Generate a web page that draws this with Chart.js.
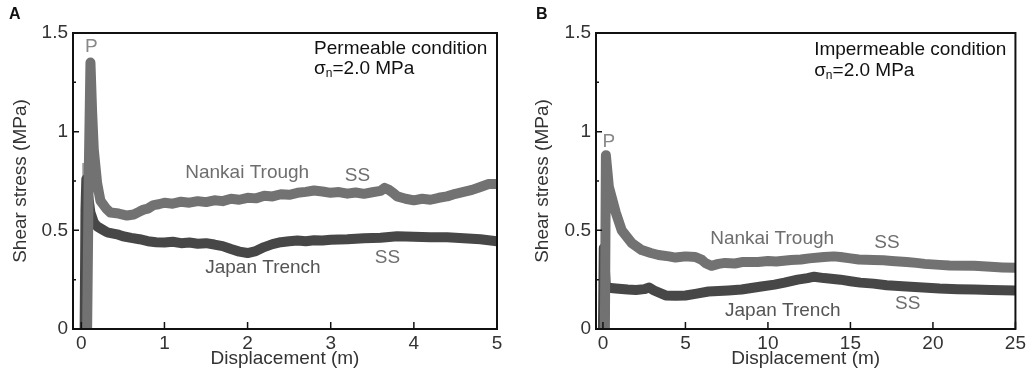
<!DOCTYPE html>
<html>
<head>
<meta charset="utf-8">
<script src="https://cdn.jsdelivr.net/npm/chart.js@4.4.1/dist/chart.umd.min.js"></script>
<style>
    html, body { margin: 0; padding: 0; background: #fff; }
    #wrap { position: relative; width: 1029px; height: 378px; overflow: hidden; }
    canvas { position: absolute; top: 0; }
    #chartA { left: 0; }
    #chartB { left: 514px; }
    .tag { position: absolute; top: 5px; font: bold 16px "Liberation Sans", Arial, sans-serif; color: #111; }
</style>
</head>
<body>
<div id="wrap">
    <canvas id="chartA" width="514" height="378"></canvas>
    <canvas id="chartB" width="515" height="378"></canvas>
    <div class="tag" style="left:9px">A</div>
    <div class="tag" style="left:536px">B</div>
</div>
<script>
// --- Panel A: permeable condition (displacement m, shear stress MPa) ---
const dispA_nankai = [0.07, 0.09, 0.11, 0.13, 0.15, 0.19, 0.23, 0.3, 0.35, 0.45, 0.55, 0.63, 0.7, 0.75, 0.8, 0.87, 0.93,
    1.0, 1.1, 1.2, 1.3, 1.4, 1.5, 1.6, 1.7, 1.8, 1.9, 2.0, 2.1, 2.2, 2.3, 2.4, 2.5, 2.6, 2.7, 2.8, 2.9, 3.0, 3.1, 3.2, 3.3,
    3.4, 3.5, 3.6, 3.65, 3.7, 3.75, 3.8, 3.9, 4.0, 4.1, 4.2, 4.3, 4.4, 4.5, 4.6, 4.7, 4.8, 4.9, 5.0];
const stressA_nankai = [0, 0.8, 1.35, 1.1, 0.91, 0.74, 0.65, 0.61, 0.59, 0.585, 0.575, 0.58, 0.595, 0.605, 0.61, 0.628, 0.632,
    0.64, 0.635, 0.645, 0.64, 0.648, 0.643, 0.652, 0.648, 0.66, 0.655, 0.665, 0.662, 0.675, 0.672, 0.683, 0.68, 0.69, 0.695, 0.702, 0.697, 0.69, 0.694, 0.686, 0.692,
    0.685, 0.693, 0.7, 0.715, 0.705, 0.69, 0.672, 0.66, 0.652, 0.66, 0.655, 0.665, 0.672, 0.685, 0.695, 0.705, 0.72, 0.735, 0.735];

const dispA_japan = [0.04, 0.05, 0.06, 0.08, 0.11, 0.15, 0.19, 0.25, 0.31, 0.37, 0.43, 0.5, 0.6, 0.7, 0.8, 0.9,
    1.0, 1.1, 1.2, 1.3, 1.4, 1.5, 1.6, 1.7, 1.8, 1.9, 2.0, 2.1, 2.2, 2.3, 2.4, 2.5, 2.6, 2.7, 2.8, 2.9,
    3.0, 3.2, 3.4, 3.6, 3.8, 4.0, 4.2, 4.4, 4.6, 4.8, 5.0];
const stressA_japan = [0, 0.6, 0.76, 0.68, 0.59, 0.54, 0.52, 0.505, 0.49, 0.485, 0.48, 0.47, 0.462, 0.455, 0.445, 0.44,
    0.438, 0.442, 0.435, 0.438, 0.432, 0.435, 0.428, 0.42, 0.405, 0.392, 0.385, 0.395, 0.415, 0.43, 0.44, 0.445, 0.448, 0.445, 0.45, 0.448,
    0.452, 0.455, 0.46, 0.462, 0.47, 0.468, 0.465, 0.465, 0.46, 0.455, 0.445];

// --- Panel B: impermeable condition ---
const dispB_nankai = [0.12, 0.18, 0.36, 0.78, 1.14, 1.75, 2.35, 2.9, 3.37, 4.0, 4.4, 5.0, 5.6, 6.0, 6.2, 6.57, 7.0, 7.4, 8.0, 8.5,
    9.4, 10.0, 10.5, 11.4, 12.0, 12.5, 13.4, 14.0, 14.4, 15.0, 15.5, 16.4, 17.0, 17.5, 18.4, 19.0, 19.5, 20.4, 21.0, 22.5, 23.5, 24.2, 25];
const stressB_nankai = [0, 0.88, 0.72, 0.59, 0.5, 0.435, 0.4, 0.385, 0.375, 0.368, 0.362, 0.368, 0.365, 0.35, 0.335, 0.32, 0.33, 0.335, 0.332, 0.34,
    0.34, 0.345, 0.342, 0.35, 0.352, 0.358, 0.365, 0.368, 0.365, 0.358, 0.352, 0.35, 0.348, 0.345, 0.34, 0.335, 0.33, 0.325, 0.322, 0.32, 0.315, 0.312, 0.31];

const dispB_japan = [0.0, 0.05, 0.18, 0.78, 1.5, 2.0, 2.5, 2.8, 3.1, 3.8, 4.4, 5.0, 5.6, 6.4, 7.0, 7.6, 8.4, 9.0, 9.6, 10.4,
    11.0, 11.8, 12.4, 12.8, 13.4, 14.4, 15.0, 15.6, 16.4, 17.2, 18.4, 19.4, 20.4, 21.5, 22.5, 23.5, 25];
const stressB_japan = [0, 0.41, 0.21, 0.205, 0.2, 0.198, 0.202, 0.21, 0.195, 0.17, 0.168, 0.17, 0.178, 0.19, 0.192, 0.195, 0.2, 0.208, 0.215, 0.225,
    0.235, 0.25, 0.258, 0.265, 0.258, 0.25, 0.242, 0.235, 0.23, 0.222, 0.215, 0.21, 0.205, 0.202, 0.2, 0.198, 0.195];

const yTicks = [0, 0.5, 1, 1.5];
const xTicksA = [0, 1, 2, 3, 4, 5];
const xTicksB = [0, 5, 10, 15, 20, 25];

// text labels placed in data coordinates
const notesA = [
    { text: 'P', x: 0.07, y: 0.8, color: '#999', align: 'center', behind: true },
    { text: 'P', x: 0.12, y: 1.43, color: '#888', align: 'center' },
    { text: 'Permeable condition', x: 2.8, y: 1.42, color: '#111' },
    { sigma: true, x: 2.8, y: 1.32, color: '#111' },
    { text: 'Nankai Trough', x: 1.25, y: 0.79, color: '#6e6e6e' },
    { text: 'SS', x: 3.17, y: 0.775, color: '#6e6e6e' },
    { text: 'Japan Trench', x: 1.49, y: 0.31, color: '#555' },
    { text: 'SS', x: 3.53, y: 0.36, color: '#6e6e6e' }
];
const notesB = [
    { text: 'P', x: 0.36, y: 0.95, color: '#888', align: 'center' },
    { text: 'Impermeable condition', x: 12.8, y: 1.414, color: '#111' },
    { sigma: true, x: 12.8, y: 1.31, color: '#111' },
    { text: 'Nankai Trough', x: 6.5, y: 0.456, color: '#6e6e6e' },
    { text: 'SS', x: 16.45, y: 0.436, color: '#6e6e6e' },
    { text: 'Japan Trench', x: 7.4, y: 0.09, color: '#555' },
    { text: 'SS', x: 17.7, y: 0.13, color: '#6e6e6e' }
];

const FONT = '"Liberation Sans", Arial, sans-serif';
const toPoints = (xs, ys) => xs.map((x, i) => ({ x, y: ys[i] }));

const drawNote = (ctx, chart, n) => {
    const px = chart.scales.x.getPixelForValue(n.x);
    const py = chart.scales.y.getPixelForValue(n.y);
    ctx.fillStyle = n.color || '#666';
    ctx.textBaseline = 'middle';
    ctx.textAlign = n.align || 'left';
    if (n.sigma) {
        ctx.textAlign = 'left';
        ctx.font = '19px ' + FONT;
        ctx.fillText('σ', px, py);
        let w = ctx.measureText('σ').width;
        ctx.font = '12px ' + FONT;
        ctx.fillText('n', px + w, py + 5);
        w += ctx.measureText('n').width;
        ctx.font = '19px ' + FONT;
        ctx.fillText('=2.0 MPa', px + w, py);
        return;
    }
    ctx.font = '19px ' + FONT;
    ctx.fillText(n.text, px, py);
};

// frame, inward ticks and text labels
const framePlugin = {
    id: 'frame',
    beforeDatasetsDraw(chart, args, opts) {
        const ctx = chart.ctx;
        ctx.save();
        opts.notes.filter(n => n.behind).forEach(n => drawNote(ctx, chart, n));
        ctx.restore();
    },
    afterDatasetsDraw(chart, args, opts) {
        const { ctx, chartArea: a, scales: { x, y } } = chart;
        ctx.save();
        ctx.strokeStyle = '#111';
        ctx.lineWidth = 2;
        ctx.strokeRect(a.left, a.top, a.right - a.left, a.bottom - a.top);
        ctx.lineWidth = 1.5;
        ctx.beginPath();
        y.ticks.forEach(t => {
            const py = y.getPixelForValue(t.value);
            const len = yTicks.includes(t.value) ? 6 : 3;
            ctx.moveTo(a.left, py);
            ctx.lineTo(a.left + len, py);
        });
        opts.xTicks.forEach(v => {
            const px = x.getPixelForValue(v);
            ctx.moveTo(px, a.bottom);
            ctx.lineTo(px, a.bottom - 7);
        });
        ctx.stroke();
        opts.notes.filter(n => !n.behind).forEach(n => drawNote(ctx, chart, n));
        ctx.restore();
    }
};

const makeChart = (id, cfg) => {
    const ctx = document.getElementById(id).getContext('2d');
    return new Chart(ctx, {
        type: 'line',
        data: {
            datasets: [{
                data: cfg.nankai,
                borderColor: '#727272',
                borderWidth: 10,
                pointRadius: 0,
                tension: 0,
                borderJoinStyle: 'round',
                clip: 0
            }, {
                data: cfg.japan,
                borderColor: '#474747',
                borderWidth: 10,
                pointRadius: 0,
                tension: 0,
                borderJoinStyle: 'round',
                clip: 0
            }]
        },
        options: {
            responsive: false,
            animation: false,
            layout: { padding: { top: 33, right: cfg.padRight, left: cfg.padLeft, bottom: 0 } },
            plugins: {
                legend: { display: false },
                tooltip: { enabled: false },
                frame: { notes: cfg.notes, xTicks: cfg.xTicks }
            },
            scales: {
                x: {
                    type: 'linear',
                    min: cfg.xMin,
                    max: cfg.xMax,
                    afterFit: s => { s.height = 49; },
                    afterBuildTicks: s => { s.ticks = cfg.xTicks.map(v => ({ value: v })); },
                    ticks: { padding: 3, color: '#333', font: { family: FONT, size: 19 }, maxRotation: 0 },
                    grid: { display: false, drawTicks: false },
                    border: { display: false },
                    title: {
                        display: true, text: 'Displacement (m)', color: '#333',
                        font: { family: FONT, size: 19 }, padding: { top: 0, bottom: 8 }
                    }
                },
                y: {
                    min: 0,
                    max: 1.5,
                    afterFit: s => { s.width = cfg.yWidth; },
                    ticks: {
                        stepSize: 0.25,
                        autoSkip: false,
                        padding: 5,
                        color: '#333',
                        font: { family: FONT, size: 19 },
                        callback: v => yTicks.includes(v) ? String(v) : ''
                    },
                    grid: { display: false, drawTicks: false },
                    border: { display: false },
                    title: {
                        display: true, text: 'Shear stress (MPa)', color: '#333',
                        font: { family: FONT, size: 19 }, padding: { top: 9, bottom: 0 }
                    }
                }
            }
        },
        plugins: [framePlugin]
    });
};

makeChart('chartA', {
    nankai: toPoints(dispA_nankai, stressA_nankai),
    japan: toPoints(dispA_japan, stressA_japan),
    notes: notesA, xTicks: xTicksA,
    xMin: -0.1, xMax: 5, padLeft: 0, padRight: 17, yWidth: 73
});

makeChart('chartB', {
    nankai: toPoints(dispB_nankai, stressB_nankai),
    japan: toPoints(dispB_japan, stressB_japan),
    notes: notesB, xTicks: xTicksB,
    xMin: -0.42, xMax: 25, padLeft: 8, padRight: 11, yWidth: 74
});
</script>
</body>
</html>
